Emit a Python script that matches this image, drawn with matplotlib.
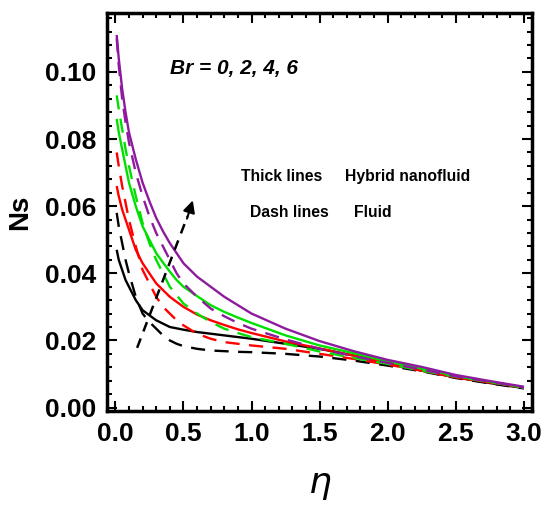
import numpy as np
import matplotlib
matplotlib.use('Agg')
import matplotlib.pyplot as plt
from matplotlib.ticker import MultipleLocator

eta = [0.01, 0.025, 0.05, 0.075, 0.1, 0.15, 0.2, 0.25, 0.3, 0.35, 0.4, 0.45, 0.5,
       0.6, 0.7, 0.8, 0.9, 1.0, 1.25, 1.5, 1.75, 2.0, 2.25, 2.5, 2.75, 3.0]

# thick lines = hybrid nanofluid, Br = 0, 2, 4, 6
hyb_br0 = [0.047, 0.044, 0.041, 0.038, 0.036, 0.032, 0.029, 0.0275, 0.026, 0.025, 0.024,
           0.0236, 0.0232, 0.0225, 0.022, 0.0215, 0.021, 0.0205, 0.019, 0.0175, 0.0155,
           0.0132, 0.011, 0.009, 0.0073, 0.0058]
hyb_br2 = [0.066, 0.063, 0.059, 0.056, 0.053, 0.047, 0.043, 0.040, 0.037, 0.035, 0.033,
           0.0315, 0.030, 0.0277, 0.026, 0.0246, 0.0233, 0.0222, 0.0197, 0.0176, 0.0155,
           0.0132, 0.011, 0.009, 0.0075, 0.006]
hyb_br4 = [0.086, 0.082, 0.077, 0.072, 0.067, 0.060, 0.054, 0.050, 0.046, 0.0432, 0.0405,
           0.038, 0.036, 0.0332, 0.0305, 0.0285, 0.0268, 0.0252, 0.0215, 0.0185, 0.0162,
           0.0137, 0.0116, 0.0094, 0.0077, 0.006]
hyb_br6 = [0.111, 0.104, 0.095, 0.088, 0.082, 0.074, 0.067, 0.0615, 0.0565, 0.0525, 0.049,
           0.046, 0.043, 0.039, 0.036, 0.033, 0.0305, 0.028, 0.0235, 0.0198, 0.0168,
           0.0142, 0.0121, 0.0097, 0.0079, 0.0062]

# dash lines = fluid
flu_br0 = [0.058, 0.054, 0.049, 0.044, 0.040, 0.033, 0.028, 0.0255, 0.0235, 0.0215, 0.020,
           0.019, 0.0183, 0.0175, 0.017, 0.0168, 0.0166, 0.0165, 0.016, 0.0152, 0.014,
           0.0125, 0.0108, 0.0088, 0.0072, 0.0057]
flu_br2 = [0.076, 0.072, 0.066, 0.061, 0.056, 0.048, 0.041, 0.037, 0.033, 0.030, 0.028,
           0.026, 0.0245, 0.022, 0.0205, 0.0195, 0.019, 0.0185, 0.0175, 0.016, 0.0145,
           0.0128, 0.011, 0.009, 0.0075, 0.006]
flu_br4 = [0.093, 0.089, 0.083, 0.077, 0.072, 0.063, 0.055, 0.049, 0.044, 0.040, 0.036,
           0.0335, 0.031, 0.028, 0.0255, 0.0235, 0.0222, 0.021, 0.019, 0.0167, 0.0148,
           0.013, 0.011, 0.0092, 0.0076, 0.006]
flu_br6 = [0.110, 0.102, 0.092, 0.085, 0.079, 0.070, 0.063, 0.057, 0.052, 0.048, 0.044,
           0.040, 0.037, 0.033, 0.0295, 0.0272, 0.0252, 0.0235, 0.0203, 0.0175, 0.0153,
           0.0133, 0.0113, 0.0093, 0.0077, 0.006]

colors = ['black', 'red', '#00e000', '#8e1a9e']
hyb = [hyb_br0, hyb_br2, hyb_br4, hyb_br6]
flu = [flu_br0, flu_br2, flu_br4, flu_br6]

narrow = ['Liberation Sans Narrow', 'Liberation Sans', 'DejaVu Sans']

fig = plt.figure(figsize=(5.44, 5.13), dpi=100)
ax = fig.add_axes([0.197, 0.199, 0.781, 0.776])

for c, yh, yf in zip(colors, hyb, flu):
    ax.plot(eta, yh, color=c, lw=1.7, solid_capstyle='butt')
    ax.plot(eta, yf, color=c, lw=1.7, dashes=(6, 4))

# dashed arrow (direction of increasing Br)
ax.plot([0.16, 0.53], [0.0178, 0.057], color='black', lw=1.8, dashes=(4, 3))
ax.annotate('', xy=(0.575, 0.0625), xytext=(0.52, 0.0555),
            arrowprops=dict(arrowstyle='-|>', color='black', lw=1.5,
                            mutation_scale=18))

ax.text(0.87, 0.101, 'Br = 0, 2, 4, 6', fontsize=15, fontweight='bold',
        style='italic', ha='center', va='center', family=narrow)
ax.text(1.22, 0.0688, 'Thick lines', fontsize=11.3, ha='center', va='center',
        family=narrow, fontweight='bold')
ax.text(2.15, 0.0688, 'Hybrid nanofluid', fontsize=11.3, ha='center', va='center',
        family=narrow, fontweight='bold')
ax.text(1.28, 0.058, 'Dash lines', fontsize=11.3, ha='center', va='center',
        family=narrow, fontweight='bold')
ax.text(1.89, 0.058, 'Fluid', fontsize=11.3, ha='center', va='center',
        family=narrow, fontweight='bold')

ax.set_xlim(-0.06, 3.06)
ax.set_ylim(-0.001, 0.1176)
ax.xaxis.set_major_locator(MultipleLocator(0.5))
ax.xaxis.set_minor_locator(MultipleLocator(0.1))
ax.yaxis.set_major_locator(MultipleLocator(0.02))
ax.yaxis.set_minor_locator(MultipleLocator(0.004))
ax.xaxis.set_major_formatter(plt.FormatStrFormatter('%.1f'))
ax.yaxis.set_major_formatter(plt.FormatStrFormatter('%.2f'))
ax.tick_params(which='both', direction='in', top=True, right=True, width=1.5)
ax.tick_params(which='major', length=7, pad=8)
ax.tick_params(which='minor', length=3.5)
for lab in ax.get_xticklabels() + ax.get_yticklabels():
    lab.set_family(narrow)
    lab.set_fontsize(19)
    lab.set_fontweight('bold')
for s in ax.spines.values():
    s.set_linewidth(2.5)

ax.set_ylabel('Ns', fontsize=20, fontweight='bold', family=narrow, labelpad=8)
ax.set_xlabel(r'$\eta$', fontsize=26, labelpad=16)

plt.savefig('out.png', dpi=100)
